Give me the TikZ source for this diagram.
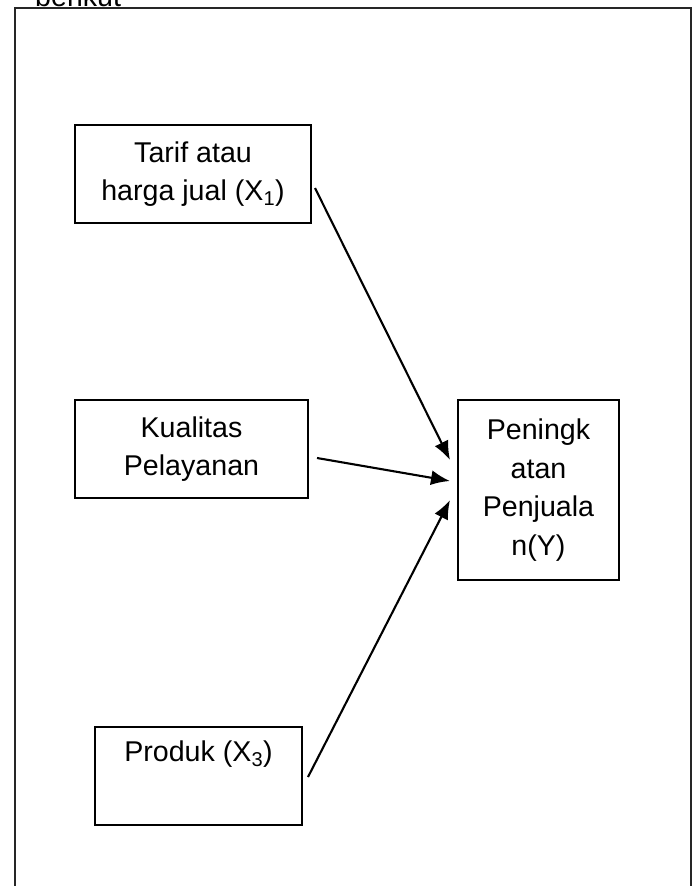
\documentclass[tikz,border=0pt]{standalone}
\usepackage{fontspec}
\setmainfont{Liberation Sans}
\usetikzlibrary{arrows.meta}
\tikzset{
  box/.style={draw, line width=2.1pt, align=center, inner sep=0pt,
    font=\fontsize{28.6}{38.5}\selectfont},
  conn/.style={line width=2.1pt, -{Latex[length=19pt,width=15pt]}}
}
\begin{document}
\begin{tikzpicture}[x=1pt,y=-1pt]
\useasboundingbox (0,0) rectangle (696,886);
\clip (0,0) rectangle (696,886);
\node[anchor=base west, inner sep=0pt, font=\fontsize{28.6}{32}\selectfont] (ttl) at (35,6) {berikut};
\draw[line width=2.1pt, draw=black!85, fill=white] (15,900) -- (15,8) -- (691,8) -- (691,900);
\node[box, minimum width=236pt, minimum height=98pt] (x1) at (193,174)
  {Tarif atau\\harga jual (X\textsubscript{1})};
\node[box, minimum width=233pt, minimum height=98pt] (x2) at (191.5,449)
  {Kualitas\\Pelayanan};
\node[box, minimum width=207pt, minimum height=98pt] (x3) at (198.5,776)
  {Produk (X\textsubscript{3})\\\strut};
\node[box, minimum width=161pt, minimum height=180pt] (y) at (538.5,490)
  {Peningk\\atan\\Penjuala\\n(Y)};
\coordinate (s1) at (315,188);
\coordinate (t1) at (450,460);
\coordinate (s2) at (317,458);
\coordinate (t2) at (450,481);
\coordinate (s3) at (308,777);
\coordinate (t3) at (450,500);
\draw[conn] (s1) -- (t1);
\draw[conn] (s2) -- (t2);
\draw[conn] (s3) -- (t3);
\end{tikzpicture}
\end{document}
